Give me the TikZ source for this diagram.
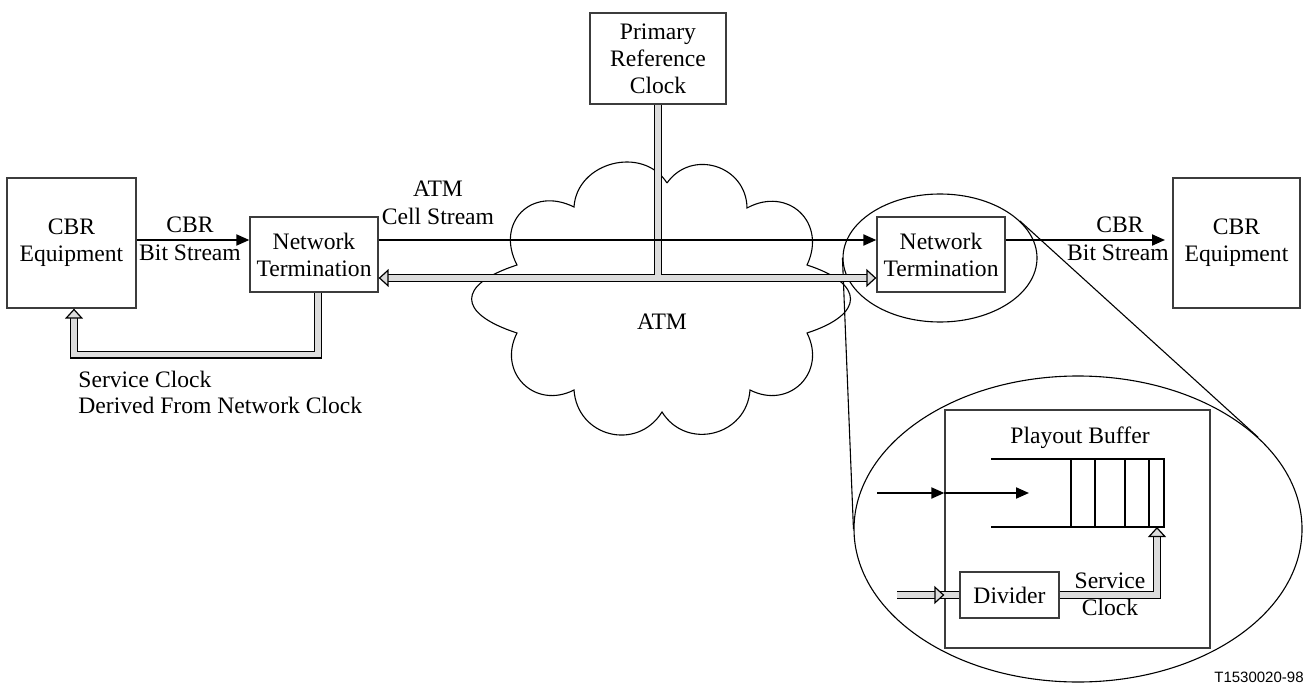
\documentclass[tikz,border=0pt]{standalone}
\usepackage{fontspec}
\setmainfont{Liberation Serif}
\newfontfamily\tagfont{Liberation Sans}
\usetikzlibrary{arrows.meta,shapes.geometric}
\definecolor{rail}{HTML}{DCDCDC}
\definecolor{edge}{HTML}{3C3C3C}
\tikzset{
  fullhead/.tip={Triangle[length=6.5pt,width=5.5pt]},
  openhead/.tip={Triangle[open,fill=rail,length=5pt,width=9pt]},
  box/.style={draw=edge, line width=0.65pt, align=center, inner sep=0pt,
              font=\fontsize{11.8}{13.5}\selectfont},
  lbl/.style={font=\fontsize{11.8}{13.5}\selectfont, inner sep=0pt, anchor=base},
  flow/.style={-fullhead, line width=1pt},
  clk/.style={line width=0.6pt, double=rail, double distance=2.8pt},
  rim/.style={line width=0.55pt},
  puff/.style={bend left=72, looseness=#1},
}
\begin{document}
\begin{tikzpicture}[x=0.5pt, y=-0.5pt]
  \useasboundingbox (0,0) rectangle (1305,684);
  \draw[rim] (667,183) to[puff=1.3] (747,208) to[puff=1.45] (807,265) to[puff=2.3] (807,333)
     to[puff=1.4] (750,390) to[puff=1.3] (662,412) to[puff=1.33] (574,390) to[puff=1.4] (517,333)
     to[puff=2.4] (517,265) to[puff=1.5] (574,207) to[puff=1.2] (667,183);
  \node[box, minimum width=64.5pt, minimum height=65pt] (cbrL) at (71.5,243) {CBR\\Equipment};
  \node[box, minimum width=64pt, minimum height=37.5pt] (ntL) at (314,254.5) {Network\\Termination};
  \node[box, minimum width=68pt, minimum height=45.5pt] (prc) at (658,58.5) {Primary\\Reference\\Clock};
  \node[box, minimum width=64pt, minimum height=37.5pt] (ntR) at (941,254.5) {Network\\Termination};
  \node[box, minimum width=63.5pt, minimum height=65pt] (cbrR) at (1236.5,243) {CBR\\Equipment};
  \node[ellipse, draw, rim, inner sep=0pt, minimum width=97pt, minimum height=64pt] (zoomA) at (940,258) {};
  \node[ellipse, draw, rim, inner sep=0pt, minimum width=224pt, minimum height=153pt] (zoomB) at (1078,529) {};
  \draw[rim] (zoomA.west) -- (zoomB.west);
  \draw[rim] (zoomA.25.6) -- (zoomB.27.2);
  \node[box, minimum width=132.5pt, minimum height=119pt] (pbox) at (1077.5,529) {};
  \node[box, minimum width=49.5pt, minimum height=23pt] (divider) at (1009.5,595) {Divider};

  \coordinate (lvA) at (0,240);
  \coordinate (lvB) at (0,278);
  \coordinate (endR) at (1165,240);
  \coordinate (loopC) at (74,354.5);
  \draw[clk, shorten <=0.4pt] (prc.south) -- (prc.south |- lvB);
  \draw[clk, openhead-openhead] (ntL.east |- lvB) -- (ntR.west |- lvB);
  \draw[rail, line width=2.8pt] ([yshift=-1pt]prc.south) -- (prc.south |- lvB);
  \draw[clk, -openhead] ([xshift=2pt]ntL.south) |- (loopC) -- (loopC |- cbrL.south);
  \draw[flow] (cbrL.east |- lvA) -- (ntL.west |- lvA);
  \draw[flow] (ntL.east |- lvA) -- (ntR.west |- lvA);
  \draw[flow] (ntR.east |- lvA) -- (endR);

  \node[lbl] (bsL1) at (190,233) {CBR};
  \node[lbl] (bsL2) at (190,260) {Bit Stream};
  \node[lbl] (cs1) at (438,197) {ATM};
  \node[lbl] (cs2) at (438,225) {Cell Stream};
  \node[lbl] (bsR1) at (1120,233) {CBR};
  \node[lbl] (bsR2) at (1118,260) {Bit Stream};
  \node[lbl, anchor=base west] (sc1) at (78,387) {Service Clock};
  \node[lbl, anchor=base west] (sc2) at (78,413) {Derived From Network Clock};
  \node[lbl] (atm) at (662,329) {ATM};

  \node[lbl] (pbuf) at (1080,443) {Playout Buffer};
  \draw[rim] (991,459) -- (1164,459) -- (1164,527) -- (991,527);
  \foreach \x in {1071,1095,1125,1149}
    \draw[rim] (\x,459) -- (\x,527);
  \coordinate (inA) at (877,493);
  \coordinate (inB) at (1029,493);
  \draw[flow] (inA) -- (pbox.west |- inA);
  \draw[flow] (pbox.west |- inA) -- (inB);
  \coordinate (dvA) at (897,595);
  \coordinate (bufIn) at (1157,527);
  \draw[clk] (dvA) -- (divider.west);
  \draw[clk, -openhead] (dvA) -- (pbox.west |- dvA);
  \draw[clk, -openhead] (divider.east) -| (bufIn);
  \node[lbl] (svc1) at (1110,588) {Service};
  \node[lbl] (svc2) at (1110,615) {Clock};
  \node[font=\tagfont\fontsize{7.5}{9}\selectfont, anchor=base east, inner sep=0pt] (figno) at (1304,682) {T1530020-98};
\end{tikzpicture}
\end{document}
